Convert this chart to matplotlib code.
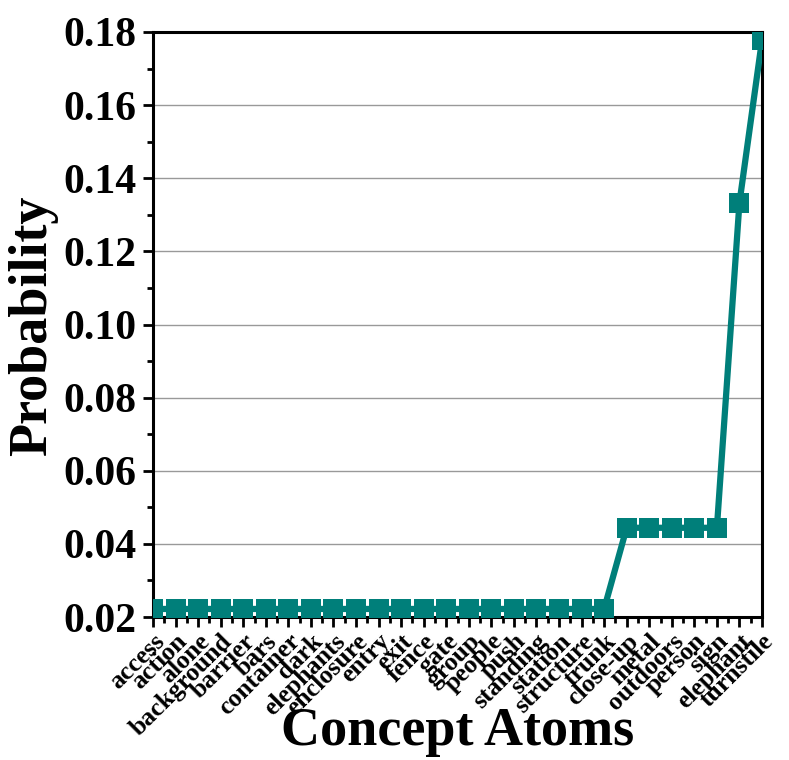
import matplotlib
matplotlib.use("Agg")
import matplotlib.pyplot as plt
import matplotlib.transforms as mtransforms
from matplotlib.ticker import MultipleLocator

categories = ["access", "action", "alone", "background", "barrier", "bars",
              "container", "dark", "elephants", "enclosure", "entry", "exit",
              "fence", "gate", "group", "people", "push", "standing", "station",
              "structure", "trunk", "close-up", "metal", "outdoors", "person",
              "sign", "elephant", "turnstile"]
probs = [0.0222, 0.0222, 0.0222, 0.0222, 0.0222, 0.0222, 0.0222,
         0.0222, 0.0222, 0.0222, 0.0222, 0.0222, 0.0222, 0.0222,
         0.0222, 0.0222, 0.0222, 0.0222, 0.0222, 0.0222, 0.0222,
         0.0444, 0.0444, 0.0444, 0.0444, 0.0444, 0.1333, 0.1778]
y_ticks = [0.02, 0.04, 0.06, 0.08, 0.10, 0.12, 0.14, 0.16, 0.18]

plt.rcParams['font.family'] = ['Liberation Serif', 'DejaVu Serif']
plt.rcParams['font.weight'] = 'bold'

W, H = 789, 760
fig = plt.figure(figsize=(W/100, H/100), dpi=100)
ax = fig.add_axes([153/W, 1-617/H, (762-153)/W, (617-32)/H])

x = list(range(len(categories)))
ax.plot(x, probs, color='#007F7A', lw=4.5, marker='s', markersize=14.5,
        markeredgewidth=0, zorder=3)

ax.set_xlim(0, len(categories) - 1)
ax.set_ylim(0.02, 0.18)
ax.set_yticks(y_ticks)
ax.set_yticklabels([f"{v:.2f}" for v in y_ticks], fontsize=30, fontweight='bold')
ax.yaxis.set_minor_locator(MultipleLocator(0.01))
ax.set_xticks(x)
ax.set_xticklabels(categories, rotation=45, ha='right', rotation_mode='anchor',
                   fontsize=18.5, fontweight='bold')
ax.xaxis.set_minor_locator(MultipleLocator(0.5))
offset = mtransforms.ScaledTranslation(8/100, -3/100, fig.dpi_scale_trans)
for lbl in ax.get_xticklabels():
    lbl.set_transform(lbl.get_transform() + offset)

ax.grid(axis='y', which='major', color='#999999', lw=1, zorder=0)
for s in ax.spines.values():
    s.set_linewidth(2.2)
ax.tick_params(axis='both', which='major', direction='out', length=7, width=2,
               top=False, right=False)
ax.tick_params(axis='both', which='minor', direction='out', length=4, width=2,
               top=False, right=False)
ax.tick_params(axis='x', which='major', pad=2)
ax.tick_params(axis='y', which='major', pad=5)

fig.text(33/W, 1-326/H, "Probability", rotation=90, ha='center', va='center',
         fontsize=39, fontweight='bold')
fig.text(458/W, 1-745/H, "Concept Atoms", ha='center', va='baseline',
         fontsize=39, fontweight='bold')

fig.savefig("out.png", dpi=100)
